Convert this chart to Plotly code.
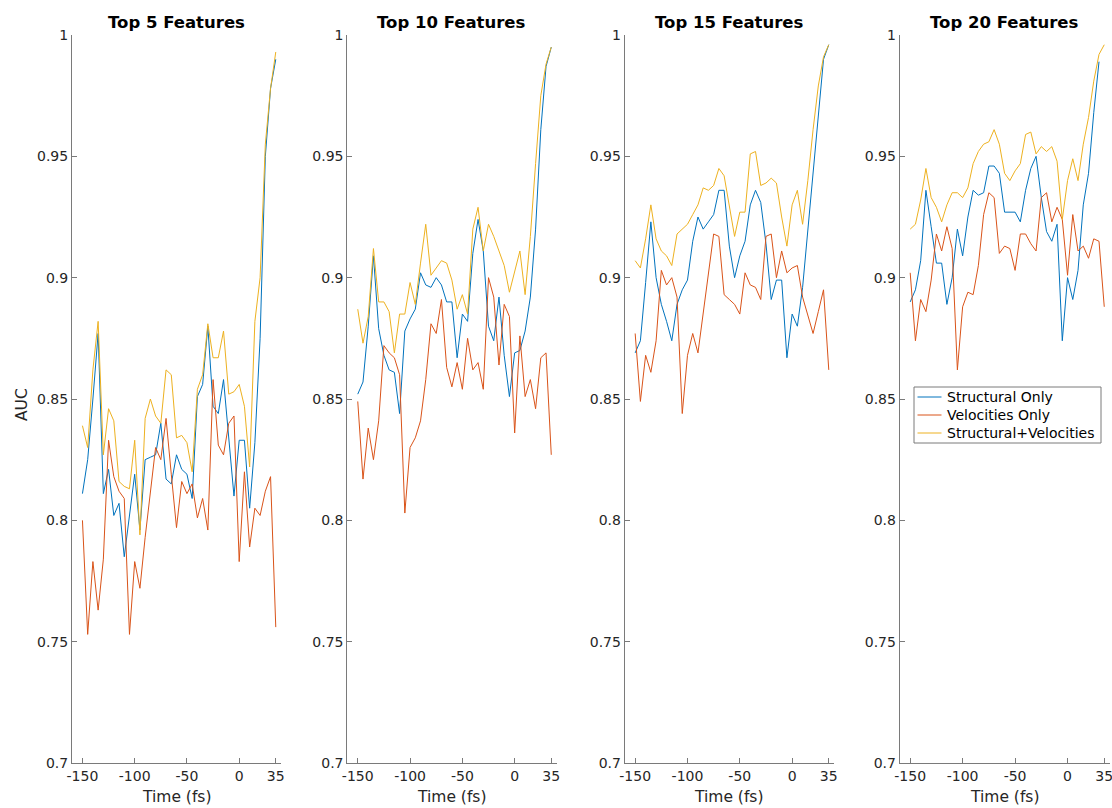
import plotly.graph_objects as go

times = [-150, -145, -140, -135, -130, -125, -120, -115, -110, -105,
         -100, -95, -90, -85, -80, -75, -70, -65, -60, -55,
         -50, -45, -40, -35, -30, -25, -20, -15, -10, -5,
         0, 5, 10, 15, 20, 25, 30, 35]

titles = ["Top 5 Features", "Top 10 Features", "Top 15 Features", "Top 20 Features"]
series_names = ["Structural Only", "Velocities Only", "Structural+Velocities"]
colors = ["#0072BD", "#D95319", "#EDB120"]

# Top 5
top5_struct = [0.811, 0.825, 0.850, 0.877, 0.811, 0.821, 0.802, 0.807, 0.785, 0.801,
               0.819, 0.796, 0.825, 0.826, 0.827, 0.840, 0.817, 0.815, 0.827, 0.821,
               0.819, 0.809, 0.851, 0.856, 0.880, 0.847, 0.844, 0.858, 0.833, 0.810,
               0.833, 0.833, 0.805, 0.832, 0.875, 0.950, 0.978, 0.990]
top5_vel = [0.800, 0.753, 0.783, 0.763, 0.784, 0.833, 0.818, 0.812, 0.809, 0.753,
            0.783, 0.772, 0.793, 0.811, 0.830, 0.825, 0.842, 0.819, 0.797, 0.816,
            0.811, 0.815, 0.801, 0.809, 0.796, 0.858, 0.831, 0.827, 0.840, 0.843,
            0.783, 0.820, 0.789, 0.805, 0.802, 0.812, 0.818, 0.756]
top5_both = [0.839, 0.830, 0.862, 0.882, 0.827, 0.846, 0.841, 0.816, 0.814, 0.813,
             0.833, 0.794, 0.842, 0.850, 0.843, 0.840, 0.862, 0.860, 0.834, 0.835,
             0.832, 0.820, 0.854, 0.860, 0.881, 0.867, 0.867, 0.878, 0.852, 0.853,
             0.856, 0.847, 0.822, 0.882, 0.900, 0.955, 0.978, 0.993]

# Top 10
top10_struct = [0.852, 0.857, 0.880, 0.909, 0.879, 0.868, 0.862, 0.861, 0.844, 0.878,
                0.883, 0.887, 0.902, 0.897, 0.896, 0.900, 0.897, 0.890, 0.890, 0.867,
                0.885, 0.882, 0.910, 0.924, 0.911, 0.880, 0.874, 0.892, 0.868, 0.851,
                0.869, 0.870, 0.878, 0.892, 0.920, 0.961, 0.987, 0.995]
top10_vel = [0.849, 0.817, 0.838, 0.825, 0.841, 0.872, 0.869, 0.867, 0.860, 0.803,
             0.830, 0.834, 0.841, 0.858, 0.881, 0.877, 0.891, 0.863, 0.855, 0.865,
             0.854, 0.875, 0.862, 0.865, 0.854, 0.900, 0.892, 0.864, 0.889, 0.884,
             0.836, 0.876, 0.851, 0.858, 0.846, 0.867, 0.869, 0.827]
top10_both = [0.887, 0.873, 0.884, 0.912, 0.890, 0.890, 0.886, 0.869, 0.885, 0.885,
              0.898, 0.889, 0.906, 0.922, 0.901, 0.904, 0.907, 0.906, 0.899, 0.887,
              0.893, 0.885, 0.920, 0.929, 0.911, 0.922, 0.917, 0.911, 0.905, 0.894,
              0.903, 0.911, 0.893, 0.917, 0.947, 0.975, 0.988, 0.995]

# Top 15
top15_struct = [0.869, 0.874, 0.898, 0.923, 0.900, 0.889, 0.882, 0.874, 0.889, 0.895,
                0.899, 0.915, 0.925, 0.920, 0.923, 0.926, 0.936, 0.936, 0.913, 0.900,
                0.909, 0.915, 0.930, 0.936, 0.931, 0.914, 0.891, 0.899, 0.899, 0.867,
                0.885, 0.880, 0.896, 0.920, 0.942, 0.969, 0.990, 0.996]
top15_vel = [0.877, 0.849, 0.868, 0.861, 0.874, 0.903, 0.897, 0.900, 0.892, 0.844,
             0.868, 0.877, 0.869, 0.885, 0.900, 0.918, 0.917, 0.893, 0.891, 0.889,
             0.885, 0.902, 0.897, 0.896, 0.891, 0.917, 0.918, 0.900, 0.911, 0.902,
             0.904, 0.905, 0.892, 0.885, 0.877, 0.886, 0.895, 0.862]
top15_both = [0.907, 0.904, 0.916, 0.930, 0.916, 0.911, 0.909, 0.905, 0.918, 0.920,
              0.922, 0.926, 0.930, 0.937, 0.936, 0.938, 0.945, 0.942, 0.929, 0.917,
              0.927, 0.927, 0.951, 0.952, 0.938, 0.939, 0.941, 0.939, 0.925, 0.913,
              0.930, 0.936, 0.922, 0.940, 0.961, 0.979, 0.991, 0.996]

# Top 20
top20_struct = [0.890, 0.895, 0.907, 0.936, 0.921, 0.906, 0.906, 0.889, 0.900, 0.920,
                0.909, 0.925, 0.936, 0.934, 0.935, 0.946, 0.946, 0.943, 0.927, 0.927,
                0.927, 0.923, 0.936, 0.945, 0.950, 0.933, 0.919, 0.915, 0.922, 0.874,
                0.900, 0.891, 0.903, 0.930, 0.943, 0.968, 0.989, None]
top20_vel = [0.902, 0.874, 0.891, 0.886, 0.899, 0.918, 0.911, 0.921, 0.912, 0.862,
             0.888, 0.894, 0.893, 0.905, 0.926, 0.935, 0.933, 0.910, 0.913, 0.912,
             0.903, 0.918, 0.918, 0.914, 0.911, 0.933, 0.935, 0.923, 0.929, 0.924,
             0.901, 0.926, 0.911, 0.913, 0.908, 0.916, 0.915, 0.888]
top20_both = [0.920, 0.922, 0.932, 0.945, 0.933, 0.929, 0.923, 0.930, 0.935, 0.935,
              0.933, 0.937, 0.947, 0.952, 0.955, 0.956, 0.961, 0.955, 0.943, 0.940,
              0.944, 0.947, 0.959, 0.960, 0.951, 0.954, 0.952, 0.954, 0.948, 0.924,
              0.940, 0.949, 0.940, 0.955, 0.966, 0.981, 0.992, 0.996]

panels = [
    [top5_struct, top5_vel, top5_both],
    [top10_struct, top10_vel, top10_both],
    [top15_struct, top15_vel, top15_both],
    [top20_struct, top20_vel, top20_both],
]

x_ticks = [-150, -100, -50, 0, 35]
x_tick_text = ["-150", "-100", "-50", "0", "35"]
y_ticks = [0.7, 0.75, 0.8, 0.85, 0.9, 0.95, 1.0]
y_tick_text = ["0.7", "0.75", "0.8", "0.85", "0.9", "0.95", "1"]

W, H = 1112, 808
x_domains_px = [(72, 281), (347.3, 556.5), (624.7, 834), (899.7, 1109.5)]
y_top_px, y_bot_px = 35, 763

FONT = "DejaVu Sans"
TXT = "#262626"
AX = "#7a7a7a"

fig = go.Figure()
layout = dict(
    width=W, height=H,
    margin=dict(l=0, r=0, t=0, b=0),
    paper_bgcolor="white", plot_bgcolor="white",
    font=dict(family=FONT, size=14, color=TXT),
    showlegend=False,
)
annotations = []
shapes = []
for k in range(4):
    xa = "xaxis" if k == 0 else f"xaxis{k+1}"
    ya = "yaxis" if k == 0 else f"yaxis{k+1}"
    xref = "x" if k == 0 else f"x{k+1}"
    yref = "y" if k == 0 else f"y{k+1}"
    x0, x1 = x_domains_px[k]
    layout[xa] = dict(
        domain=[x0 / W, x1 / W], anchor=yref, range=[-160, 40],
        tickvals=x_ticks, ticktext=x_tick_text, ticks="inside", ticklen=5,
        tickcolor=AX, showline=True, linecolor=AX, linewidth=1,
        showgrid=False, zeroline=False, automargin=False,
        ticklabeloverflow="allow",
        tickfont=dict(family=FONT, size=14, color=TXT),
    )
    layout[ya] = dict(
        domain=[1 - y_bot_px / H, 1 - y_top_px / H], anchor=xref, range=[0.7, 1.0],
        tickvals=y_ticks, ticktext=y_tick_text, ticks="inside", ticklen=5,
        tickcolor=AX, showline=True, linecolor=AX, linewidth=1,
        showgrid=False, zeroline=False, automargin=False,
        ticklabeloverflow="allow",
        tickfont=dict(family=FONT, size=14, color=TXT),
    )
    for s in range(3):
        fig.add_trace(go.Scatter(
            x=times, y=panels[k][s], mode="lines", name=series_names[s],
            line=dict(color=colors[s], width=1),
            xaxis=xref, yaxis=yref, showlegend=False,
            connectgaps=False,
        ))
    cx = (x0 + x1) / 2 / W
    annotations.append(dict(
        text=f"<b>{titles[k]}</b>", x=cx, y=1 - 22 / H, xref="paper", yref="paper",
        showarrow=False, xanchor="center", yanchor="middle",
        font=dict(family=FONT, size=16.5, color="black"),
    ))
    annotations.append(dict(
        text="Time (fs)", x=cx, y=1 - 797 / H, xref="paper", yref="paper",
        showarrow=False, xanchor="center", yanchor="middle",
        font=dict(family=FONT, size=15.5, color=TXT),
    ))
annotations.append(dict(
    text="AUC", x=22 / W, y=1 - 405 / H, xref="paper", yref="paper",
    showarrow=False, xanchor="center", yanchor="middle", textangle=-90,
    font=dict(family=FONT, size=15.5, color=TXT),
))

# legend box (drawn in the last panel's area)
lg_x0, lg_x1, lg_y0, lg_y1 = 914, 1101, 387, 443
shapes.append(dict(type="rect", xref="paper", yref="paper",
                   x0=lg_x0 / W, x1=lg_x1 / W, y0=1 - lg_y1 / H, y1=1 - lg_y0 / H,
                   line=dict(color=AX, width=1), fillcolor="white", layer="above"))
row_y = [397, 415, 433]
for s in range(3):
    yy = 1 - row_y[s] / H
    shapes.append(dict(type="line", xref="paper", yref="paper",
                       x0=917.5 / W, x1=941.5 / W, y0=yy, y1=yy,
                       line=dict(color=colors[s], width=1), layer="above"))
    annotations.append(dict(
        text=series_names[s], x=945 / W, y=yy, xref="paper", yref="paper",
        showarrow=False, xanchor="left", yanchor="middle",
        font=dict(family=FONT, size=14, color="black"),
    ))
layout["annotations"] = annotations
layout["shapes"] = shapes
fig.update_layout(**layout)
fig.write_html("out.html")
